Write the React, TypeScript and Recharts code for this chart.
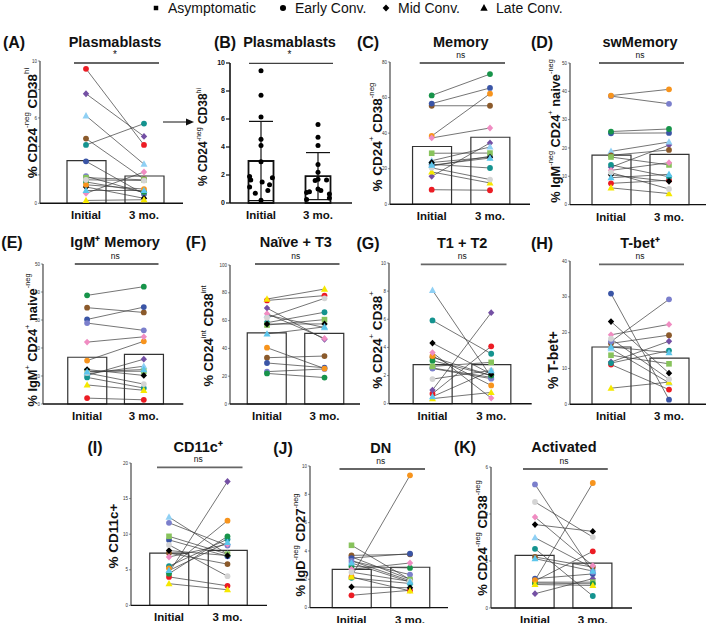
import React from "react";
import { Bar, ComposedChart, ErrorBar, Line, Scatter, XAxis, YAxis } from "recharts";

const FONT = '"Liberation Sans", Arial, Helvetica, sans-serif';

const timepoints = ["Initial", "3 mo."];

// one entry per donor: colour + symbol (symbol = disease group)
const donors = [
  { id: "d1", color: "#ec1c24", shape: "circle" },
  { id: "d2", color: "#7450a4", shape: "diamond" },
  { id: "d3", color: "#8fd0f4", shape: "triangle" },
  { id: "d4", color: "#8b5a2b", shape: "circle" },
  { id: "d5", color: "#14938f", shape: "circle" },
  { id: "d6", color: "#3a55a6", shape: "circle" },
  { id: "d7", color: "#7b7fcc", shape: "circle" },
  { id: "d8", color: "#88c35c", shape: "square" },
  { id: "d9", color: "#17944a", shape: "circle" },
  { id: "d10", color: "#000000", shape: "diamond" },
  { id: "d11", color: "#f7941d", shape: "circle" },
  { id: "d12", color: "#f08cc2", shape: "diamond" },
  { id: "d13", color: "#f5e800", shape: "triangle" },
  { id: "d14", color: "#d4d4d4", shape: "circle" },
  { id: "d15", color: "#5cc6ec", shape: "triangle" },
];

const legendItems = [
  { label: "Asymptomatic", shape: "square" },
  { label: "Early Conv.", shape: "circle" },
  { label: "Mid Conv.", shape: "diamond" },
  { label: "Late Conv.", shape: "triangle" },
];

// values per donor, same order as donors
const plasmaInitial = [9.45, 7.7, 6.15, 4.55, 4.1, 2.95, 1.9, 1.8, 1.5, 1.15, 1.3, 0.7, 0.2, 1.65, 0.9];
const plasma3mo = [4.1, 4.7, 2.75, 1.7, 5.6, 0.65, 0.75, 1.65, 0.8, 0.35, 1.0, 2.2, 0.25, 1.6, 0.9];
const plasmaMean = [3.0, 1.92];
const plasmaSd = [2.83, 1.68];
const plasmaJitterInitial = [0, 0, 0, 0, 0, 0, -0.2, 0.2, 0.02, -0.2, 0.15, -0.1, 0, -0.18, 0.12];
const plasmaJitter3mo = [0, 0, 0, 0, 0, 0.2, -0.2, 0.15, -0.15, 0.2, 0, 0, -0.2, -0.05, 0.05];

const memoryInitial = [8.2, 15.7, 24.5, 55.4, 22.5, 56.6, 21.5, 28.7, 61.2, 23.5, 38.4, 37.3, 18.2, 20.5, 22];
const memory3mo = [7.9, 34.5, 32.2, 55.4, 20.4, 65.4, 27, 28.8, 73.2, 26.5, 62.2, 42.9, 12, 13.9, 26];
const memoryMean = [32.5, 37.7];

const swInitial = [7.5, 13.2, 18.8, 17.4, 14, 25.2, 38.3, 16.8, 25.8, 10.5, 38.5, 12.1, 5.9, 11.3, 9.5];
const sw3mo = [8.6, 21, 22.1, 19.3, 9.8, 25.3, 35.6, 14, 26.7, 8.2, 40.7, 14.8, 3.9, 5.5, 10.7];
const swMean = [17.5, 17.7];

const igmInitial = [2.1, 10.2, 10.8, 34.4, 9.5, 30.2, 28.9, 11.7, 38.8, 12.3, 15.5, 22.1, 6.8, 11.1, 11.5];
const igm3mo = [1.5, 16, 13.5, 32.7, 5.7, 34.6, 26.3, 11.7, 41.9, 10.2, 22.4, 24, 4.9, 7.1, 12.3];
const igmMean = [16.7, 17.7];

const naiveInitial = [74.5, 69, 64, 33.3, 58.5, 29.5, 23.3, 56.8, 22, 57.5, 40.5, 65, 75.5, 62, 50.4];
const naive3mo = [78, 46.5, 55, 34.5, 66, 26.1, 25.2, 60.7, 19, 57.6, 25.5, 47.2, 82.7, 76, 55.5];
const naiveMean = [51.1, 50.8];

const t12Initial = [0.71, 0.97, 8.06, 3.3, 5.92, 2.54, 2.5, 2.65, 3.06, 4.31, 3.39, 3.63, 0.36, 1.75, 0.5];
const t123mo = [4.08, 6.47, 1.9, 2.0, 3.55, 1.87, 1.78, 2.94, 2.0, 2.1, 1.3, 0.4, 0.8, 2.37, 2.35];
const t12Mean = [2.77, 2.77];

const tbetInitial = [11.1, 11.8, 15.5, 17, 11.5, 30.9, 17.5, 13.7, null, 23.1, null, 19.4, 4.5, 18.3, 16];
const tbet3mo = [4.1, 17.6, 6, 19.3, 15, 1.3, 29.3, 11.3, null, 8.7, null, 22.3, 6.2, 7, 14.4];
const tbetMean = [16, 12.9];

const cd11cInitial = [4, 4.6, 12.4, 7.35, 5.5, 9.2, 11.6, 9.7, 4.45, 7.7, 5.2, 6.8, 3.05, 8.5, 4.9];
const cd11c3mo = [2.75, 17.4, 7.2, 5.8, 9.3, 6.9, 8.4, 7.2, 9.7, 7, 11.9, 8.6, 2.2, 4.1, 8.85];
const cd11cMean = [7.35, 7.73];

const dnInitial = [0.87, 3.58, 3.3, 3.69, 2.1, 3.5, 3.3, 4.4, 2.9, 1.46, 2.2, 2.7, 2.16, 2.5, 3.15];
const dn3mo = [1.22, 2.0, 1.9, 3.76, 1.7, 3.81, 2.33, 1.98, 2.8, 1.4, 9.34, 3.15, 1.18, 1.85, 1.81];
const dnMean = [2.7, 2.85];

const actInitial = [1.15, 0.61, 2.99, 2.17, 2.52, 1.25, 5.26, 1.1, 1.06, 3.55, 1.18, 3.87, 1.0, 4.51, 2.1];
const act3mo = [2.41, 1.25, 1.7, 1.74, 0.51, 1.45, 1.53, 1.1, 1.03, 3.26, 5.32, 1.8, 0.96, 3.02, 1.57];
const actMean = [2.24, 1.91];

function Mark({ cx, cy, shape, color, s = 1 }: any) {
  if (cx == null || cy == null || Number.isNaN(cy)) return null;
  if (shape === "square")
    return <rect x={cx - 2.8 * s} y={cy - 2.8 * s} width={5.6 * s} height={5.6 * s} fill={color} />;
  if (shape === "diamond")
    return <path d={`M${cx},${cy - 3.4 * s}L${cx + 3.2 * s},${cy}L${cx},${cy + 3.4 * s}L${cx - 3.2 * s},${cy}Z`} fill={color} />;
  if (shape === "triangle")
    return <path d={`M${cx},${cy - 3.8 * s}L${cx + 3.5 * s},${cy + 2.6 * s}L${cx - 3.5 * s},${cy + 2.6 * s}Z`} fill={color} />;
  return <circle cx={cx} cy={cy} r={2.9 * s} fill={color} />;
}

function XTick({ x, y, payload }: any) {
  return (
    <text x={x} y={y + 8} textAnchor="middle" fontFamily={FONT} fontWeight="bold" fontSize={11.5} fill="#111">
      {payload.value}
    </text>
  );
}

function buildRows(initial: (number | null)[], later: (number | null)[], means: number[]) {
  return timepoints.map((t, ti) => {
    const row: any = { name: t, mean: means[ti] };
    donors.forEach((d, i) => {
      row[d.id] = (ti === 0 ? initial : later)[i];
    });
    return row;
  });
}

type Geo = { ax: number; top: number; bottom: number; c1: number; c2: number; xEnd: number };

function frame(g: Geo) {
  const band = g.c2 - g.c1;
  return {
    padL: g.c1 - g.ax - band / 2,
    padR: g.xEnd - g.c2 - band / 2,
    left: g.ax - 40,
    width: g.xEnd - (g.ax - 40) + 2,
    height: g.bottom - g.top + 36,
  };
}

const MARGIN = { top: 10, right: 2, bottom: 6, left: 0 };

function PairedPanel({ g, yMax, ticks, initial, later, means }: any) {
  const f = frame(g);
  const rows = buildRows(initial, later, means);
  return (
    <div style={{ position: "absolute", left: f.left, top: g.top - 10 }}>
      <ComposedChart width={f.width} height={f.height} data={rows} margin={MARGIN}>
        <XAxis
          dataKey="name"
          padding={{ left: f.padL, right: f.padR }}
          axisLine={{ stroke: "#111", strokeWidth: 1.4 }}
          tickLine={false}
          tick={<XTick />}
          height={20}
          interval={0}
        />
        <YAxis
          domain={[0, yMax]}
          ticks={ticks}
          width={40}
          axisLine={{ stroke: "#222", strokeWidth: 1 }}
          tickLine={{ stroke: "#444", strokeWidth: 0.6 }}
          tickSize={2}
          tickMargin={1}
          tick={{ fontSize: 4.5, fill: "#333", fontFamily: FONT }}
        />
        <Bar dataKey="mean" barSize={39} fill="#fff" stroke="#333" strokeWidth={1.2} isAnimationActive={false} />
        {donors.map((d) => (
          <Line
            key={"l" + d.id}
            dataKey={d.id}
            type="linear"
            stroke="#3a3a3a"
            strokeWidth={0.7}
            dot={false}
            activeDot={false}
            isAnimationActive={false}
          />
        ))}
        {donors.map((d) => (
          <Line
            key={"p" + d.id}
            dataKey={d.id}
            type="linear"
            stroke="none"
            activeDot={false}
            isAnimationActive={false}
            dot={(p: any) => <Mark key={`${d.id}-${p.index}`} cx={p.cx} cy={p.cy} shape={d.shape} color={d.color} />}
          />
        ))}
      </ComposedChart>
    </div>
  );
}

function ScatterBarPanel({ g }: { g: Geo }) {
  const f = frame(g);
  const rows = timepoints.map((t, i) => ({ name: t, mean: plasmaMean[i], sd: plasmaSd[i] }));
  const pts = [
    ...plasmaInitial.map((v, i) => ({ x: 1 + plasmaJitterInitial[i], y: v })),
    ...plasma3mo.map((v, i) => ({ x: 2 + plasmaJitter3mo[i], y: v })),
  ];
  return (
    <div style={{ position: "absolute", left: f.left, top: g.top - 10 }}>
      <ComposedChart width={f.width} height={f.height} data={rows} margin={MARGIN}>
        <XAxis
          dataKey="name"
          padding={{ left: f.padL, right: f.padR }}
          axisLine={{ stroke: "#111", strokeWidth: 1.6 }}
          tickLine={false}
          tick={<XTick />}
          height={20}
          interval={0}
        />
        <XAxis
          xAxisId="n"
          dataKey="x"
          type="number"
          domain={[0.5, 2.5]}
          hide
          padding={{ left: f.padL, right: f.padR }}
          allowDataOverflow
        />
        <YAxis
          domain={[0, 10]}
          ticks={[0, 2, 4, 6, 8, 10]}
          width={40}
          axisLine={{ stroke: "#111", strokeWidth: 1.6 }}
          tickLine={{ stroke: "#111", strokeWidth: 1.2 }}
          tickSize={4}
          tickMargin={1}
          tick={{ fontSize: 7, fill: "#111", fontFamily: FONT, fontWeight: "bold" }}
        />
        <Bar dataKey="mean" barSize={25} fill="#fff" stroke="#111" strokeWidth={1.8} isAnimationActive={false}>
          <ErrorBar dataKey="sd" width={12} stroke="#111" strokeWidth={1.2} direction="y" />
        </Bar>
        <Scatter
          xAxisId="n"
          data={pts}
          dataKey="y"
          isAnimationActive={false}
          shape={(p: any) => <circle cx={p.cx} cy={p.cy} r={2.5} fill="#000" />}
        />
      </ComposedChart>
    </div>
  );
}

type Part = [string, boolean];

function YTitle({ x, y, size, parts }: { x: number; y: number; size: number; parts: Part[] }) {
  let shifted = false;
  return (
    <text
      transform={`translate(${x},${y}) rotate(-90)`}
      textAnchor="middle"
      dominantBaseline="central"
      fontFamily={FONT}
      fontWeight="bold"
      fontSize={size}
      fill="#111"
    >
      {parts.map(([t, sup], i) => {
        let dy = 0;
        if (sup && !shifted) {
          dy = -size * 0.42;
          shifted = true;
        } else if (!sup && shifted) {
          dy = size * 0.42;
          shifted = false;
        }
        return (
          <tspan key={i} dy={dy} fontSize={sup ? size * 0.58 : size} fontWeight={sup ? "normal" : "bold"}>
            {t}
          </tspan>
        );
      })}
    </text>
  );
}

const geoA: Geo = { ax: 40, top: 61, bottom: 203.3, c1: 86, c2: 144, xEnd: 183 };
const geoB: Geo = { ax: 230, top: 63.3, bottom: 203.3, c1: 261, c2: 318, xEnd: 352 };
const geoC: Geo = { ax: 390, top: 61.7, bottom: 204, c1: 431.7, c2: 490, xEnd: 530 };
const geoD: Geo = { ax: 570, top: 62.7, bottom: 204.3, c1: 611, c2: 669, xEnd: 706 };
const geoE: Geo = { ax: 42.7, top: 264.3, bottom: 404.3, c1: 86.8, c2: 143.5, xEnd: 183 };
const geoF: Geo = { ax: 230, top: 265, bottom: 404, c1: 267, c2: 324.5, xEnd: 360 };
const geoG: Geo = { ax: 389.3, top: 263.3, bottom: 404, c1: 432.8, c2: 491.5, xEnd: 532 };
const geoH: Geo = { ax: 570, top: 260.7, bottom: 404, c1: 611, c2: 669, xEnd: 706 };
const geoI: Geo = { ax: 131, top: 463.3, bottom: 605.7, c1: 169, c2: 227.5, xEnd: 267 };
const geoJ: Geo = { ax: 310, top: 465.7, bottom: 607.3, c1: 351.5, c2: 410, xEnd: 448 };
const geoK: Geo = { ax: 491, top: 466.7, bottom: 607.7, c1: 535, c2: 592.8, xEnd: 632 };

const annotations = [
  { tag: "(A)", tagX: 14, title: "Plasmablasts", g: geoA, titleY: 42, sigY: 63, sig: "*", thin: false,
    yl: { x: 32, y: 123, size: 13.5, parts: [["% CD24", false], ["-neg", true], [" CD38", false], ["hi", true]] } },
  { tag: "(B)", tagX: 225, title: "Plasmablasts", g: geoB, titleY: 42, sigY: 63.3, sig: "*", thin: true,
    yl: { x: 203, y: 137, size: 12, parts: [["% CD24", false], ["-neg", true], [" CD38", false], ["hi", true]] } },
  { tag: "(C)", tagX: 368, title: "Memory", g: geoC, titleY: 42, sigY: 63, sig: "ns", thin: false,
    yl: { x: 377, y: 137, size: 13.5, parts: [["% CD24", false], ["+", true], [" CD38", false], ["-neg", true]] } },
  { tag: "(D)", tagX: 542, title: "swMemory", g: geoD, titleY: 42, sigY: 63, sig: "ns", thin: false,
    yl: { x: 555, y: 131, size: 12.8, parts: [["% IgM", false], ["-neg", true], [" CD24", false], ["+", true], [" naive", false], ["-neg", true]] } },
  { tag: "(E)", tagX: 12, title: "IgM⁺ Memory", g: geoE, titleY: 242, sigY: 264, sig: "ns", thin: false,
    yl: { x: 32, y: 340, size: 12.8, parts: [["% IgM", false], ["+", true], [" CD24", false], ["+", true], [" naive", false], ["-neg", true]] } },
  { tag: "(F)", tagX: 196, title: "Naïve + T3", g: geoF, titleY: 242, sigY: 264, sig: "ns", thin: false,
    yl: { x: 208, y: 336, size: 13, parts: [["% CD24", false], ["int", true], [" CD38", false], ["int", true]] } },
  { tag: "(G)", tagX: 368, title: "T1 + T2", g: geoG, titleY: 243, sigY: 264.3, sig: "ns", thin: false,
    yl: { x: 377, y: 340, size: 13.5, parts: [["% CD24", false], ["+", true], [" CD38", false], ["+", true]] } },
  { tag: "(H)", tagX: 542, title: "T-bet⁺", g: geoH, titleY: 243, sigY: 264.3, sig: "ns", thin: false,
    yl: { x: 553, y: 360, size: 14, parts: [["% T-bet+", false]] } },
  { tag: "(I)", tagX: 95, title: "CD11c⁺", g: geoI, titleY: 447, sigY: 467.3, sig: "ns", thin: false,
    yl: { x: 113, y: 536, size: 13.5, parts: [["% CD11c+", false]] } },
  { tag: "(J)", tagX: 283, title: "DN", g: geoJ, titleY: 448, sigY: 469, sig: "ns", thin: false,
    yl: { x: 300, y: 545, size: 13, parts: [["% IgD", false], ["-neg", true], [" CD27", false], ["-neg", true]] } },
  { tag: "(K)", tagX: 465, title: "Activated", g: geoK, titleY: 447, sigY: 469, sig: "ns", thin: false,
    yl: { x: 482, y: 538, size: 13, parts: [["% CD24", false], ["-neg", true], [" CD38", false], ["-neg", true]] } },
];

const legendX = [156, 283, 386, 484];

export default function App() {
  return (
    <div style={{ position: "absolute", left: 0, top: 0, width: 709, height: 623, background: "#fff", overflow: "hidden" }}>
      <PairedPanel g={geoA} yMax={10} ticks={[0, 2, 4, 6, 8, 10]} initial={plasmaInitial} later={plasma3mo} means={plasmaMean} />
      <ScatterBarPanel g={geoB} />
      <PairedPanel g={geoC} yMax={80} ticks={[0, 20, 40, 60, 80]} initial={memoryInitial} later={memory3mo} means={memoryMean} />
      <PairedPanel g={geoD} yMax={50} ticks={[0, 10, 20, 30, 40, 50]} initial={swInitial} later={sw3mo} means={swMean} />
      <PairedPanel g={geoE} yMax={50} ticks={[0, 10, 20, 30, 40, 50]} initial={igmInitial} later={igm3mo} means={igmMean} />
      <PairedPanel g={geoF} yMax={100} ticks={[0, 20, 40, 60, 80, 100]} initial={naiveInitial} later={naive3mo} means={naiveMean} />
      <PairedPanel g={geoG} yMax={10} ticks={[0, 2, 4, 6, 8, 10]} initial={t12Initial} later={t123mo} means={t12Mean} />
      <PairedPanel g={geoH} yMax={40} ticks={[0, 10, 20, 30, 40]} initial={tbetInitial} later={tbet3mo} means={tbetMean} />
      <PairedPanel g={geoI} yMax={20} ticks={[0, 5, 10, 15, 20]} initial={cd11cInitial} later={cd11c3mo} means={cd11cMean} />
      <PairedPanel g={geoJ} yMax={10} ticks={[0, 2, 4, 6, 8, 10]} initial={dnInitial} later={dn3mo} means={dnMean} />
      <PairedPanel g={geoK} yMax={6} ticks={[0, 2, 4, 6]} initial={actInitial} later={act3mo} means={actMean} />

      <svg width={709} height={623} style={{ position: "absolute", left: 0, top: 0, pointerEvents: "none" }}>
        {legendItems.map((it, i) => (
          <g key={it.label}>
            <Mark cx={legendX[i]} cy={8} shape={it.shape} color="#000" s={it.shape === "square" ? 0.8 : 1.05} />
            <text x={legendX[i] + 12} y={8} dominantBaseline="central" fontFamily={FONT} fontSize={14} fill="#111">
              {it.label}
            </text>
          </g>
        ))}
        {annotations.map((a) => {
          const midX = (a.g.c1 + a.g.c2) / 2;
          return (
            <g key={a.tag}>
              <text x={a.tagX} y={a.titleY} textAnchor="middle" dominantBaseline="central" fontFamily={FONT} fontWeight="bold" fontSize={16} fill="#111">
                {a.tag}
              </text>
              <text x={midX} y={a.titleY} textAnchor="middle" dominantBaseline="central" fontFamily={FONT} fontWeight="bold" fontSize={14.5} fill="#111">
                {a.title}
              </text>
              <line
                x1={a.g.c1 - 12}
                x2={a.g.c2 + 15}
                y1={a.sigY}
                y2={a.sigY}
                stroke={a.thin ? "#111" : "#666"}
                strokeWidth={a.thin ? 1 : 1.8}
              />
              <text x={midX} y={a.sigY - 5} textAnchor="middle" fontFamily={FONT} fontSize={a.sig === "*" ? 10 : 8.5} fill="#111">
                {a.sig}
              </text>
              <YTitle {...(a.yl as any)} />
            </g>
          );
        })}
        <line x1={163} x2={188} y1={122} y2={122} stroke="#111" strokeWidth={1} />
        <path d="M194,122L186,118.5L186,125.5Z" fill="#111" />
      </svg>
    </div>
  );
}
